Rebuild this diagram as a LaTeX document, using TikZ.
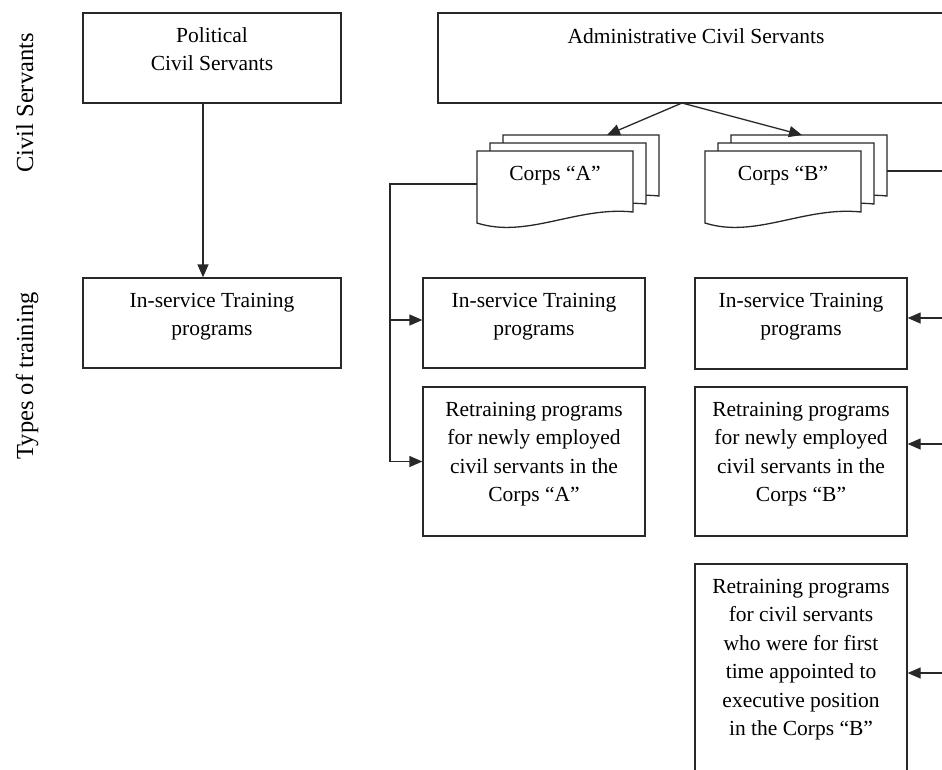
\documentclass[tikz,border=0pt]{standalone}
\usepackage{fontspec}
\setmainfont{Liberation Serif}
\usetikzlibrary{arrows.meta}
\definecolor{linec}{RGB}{40,40,40}
\newcommand\mydocshape[2]{%
  \filldraw[conn, fill=white] (#1,#2) -- ({#1+156},#2) -- ({#1+156},{#2+61})
    .. controls ({#1+100},{#2+55}) and ({#1+50},{#2+88}) .. (#1,{#2+72}) -- cycle;}
\begin{document}
\begin{tikzpicture}[x=1pt,y=-1pt,
  conn/.style={draw=linec, line width=1.3pt},
  box/.style={draw=linec, line width=1.3pt, fill=white, rectangle, inner sep=0pt},
  txt/.style={font=\fontsize{21.5pt}{28.4pt}\selectfont, align=center, inner sep=0pt, anchor=north, text=black},
  vlab/.style={font=\fontsize{24.5pt}{28pt}\selectfont, rotate=90, anchor=base, inner sep=0pt},
  arr/.style={draw=linec, line width=1.3pt, -{Triangle[length=13pt,width=11pt]}},
]
\clip (0,0) rectangle (942,769);
\fill[white] (0,0) rectangle (942,769);

% side labels
\node[vlab] (labcs) at (33,103) {Civil Servants};
\node[vlab] (labtt) at (33,376) {Types of training};

% top boxes
\node[box, minimum width=258pt, minimum height=90pt] (pol) at (212,58) {};
\node[txt] (polT) at ([yshift=-15pt]pol.north) {\rule{0pt}{15pt}Political\\Civil Servants};
\node[box, minimum width=562pt, minimum height=90pt] (adm) at (719,58) {};
\node[txt, anchor=base] (admT) at (696,43) {Administrative Civil Servants};

% training boxes
\node[box, minimum width=258pt, minimum height=90pt] (ins0) at (212,323) {};
\node[txt] at ([yshift=-15pt]ins0.north) {\rule{0pt}{15pt}In-service Training\\programs};

\node[box, minimum width=222pt, minimum height=90pt] (insA) at (534,323) {};
\node[txt] at ([yshift=-15pt]insA.north) {\rule{0pt}{15pt}In-service Training\\programs};
\node[box, minimum width=222pt, minimum height=149pt] (retA) at (534,461.5) {};
\node[txt] at ([yshift=-15pt]retA.north) {\rule{0pt}{15pt}Retraining programs\\for newly employed\\civil servants in the\\Corps “A”};

\node[box, minimum width=212pt, minimum height=91pt] (insB) at (801,323.5) {};
\node[txt] at ([yshift=-15pt]insB.north) {\rule{0pt}{15pt}In-service Training\\programs};
\node[box, minimum width=212pt, minimum height=149pt] (retB) at (801,461.5) {};
\node[txt] at ([yshift=-15pt]retB.north) {\rule{0pt}{15pt}Retraining programs\\for newly employed\\civil servants in the\\Corps “B”};
\node[box, minimum width=212pt, minimum height=218pt] (exeB) at (801,673) {};
\node[txt] at ([yshift=-15pt]exeB.north) {\rule{0pt}{15pt}Retraining programs\\for civil servants\\who were for first\\time appointed to\\executive position\\in the Corps “B”};

% corps multi-documents
\mydocshape{503}{135}
\mydocshape{490}{143}
\mydocshape{477}{151}
\node[txt, anchor=base] (cA) at (555,180) {Corps “A”};
\mydocshape{731}{135}
\mydocshape{718}{143}
\mydocshape{705}{151}
\node[txt, anchor=base] (cB) at (783,180) {Corps “B”};

\coordinate (apex) at (682,103);
\coordinate (cAtop) at (607,135);
\coordinate (cBtop) at (802,135);
\coordinate (cAw) at (477,184);
\coordinate (cBe) at (887,171);
\coordinate (jA) at (390,184);
\coordinate (jB) at (952,171);

% connectors
\draw[arr] ([xshift=-9pt]pol.south) -- ([xshift=-9pt]ins0.north);
\draw[arr] (apex) -- (cAtop);
\draw[arr] (apex) -- (cBtop);

\draw[conn] (cAw) -- (jA) -- (jA |- retA.west);
\draw[arr] (jA |- 0,320) -- (insA.west |- 0,320);
\draw[arr] (jA |- retA.west) -- (retA.west);

\draw[conn] (cBe) -- (jB) -- (jB |- exeB.east);
\draw[arr] (jB |- 0,318) -- (insB.east |- 0,318);
\draw[arr] (jB |- 0,444) -- (retB.east |- 0,444);
\draw[arr] (jB |- exeB.east) -- (exeB.east);
\end{tikzpicture}
\end{document}
